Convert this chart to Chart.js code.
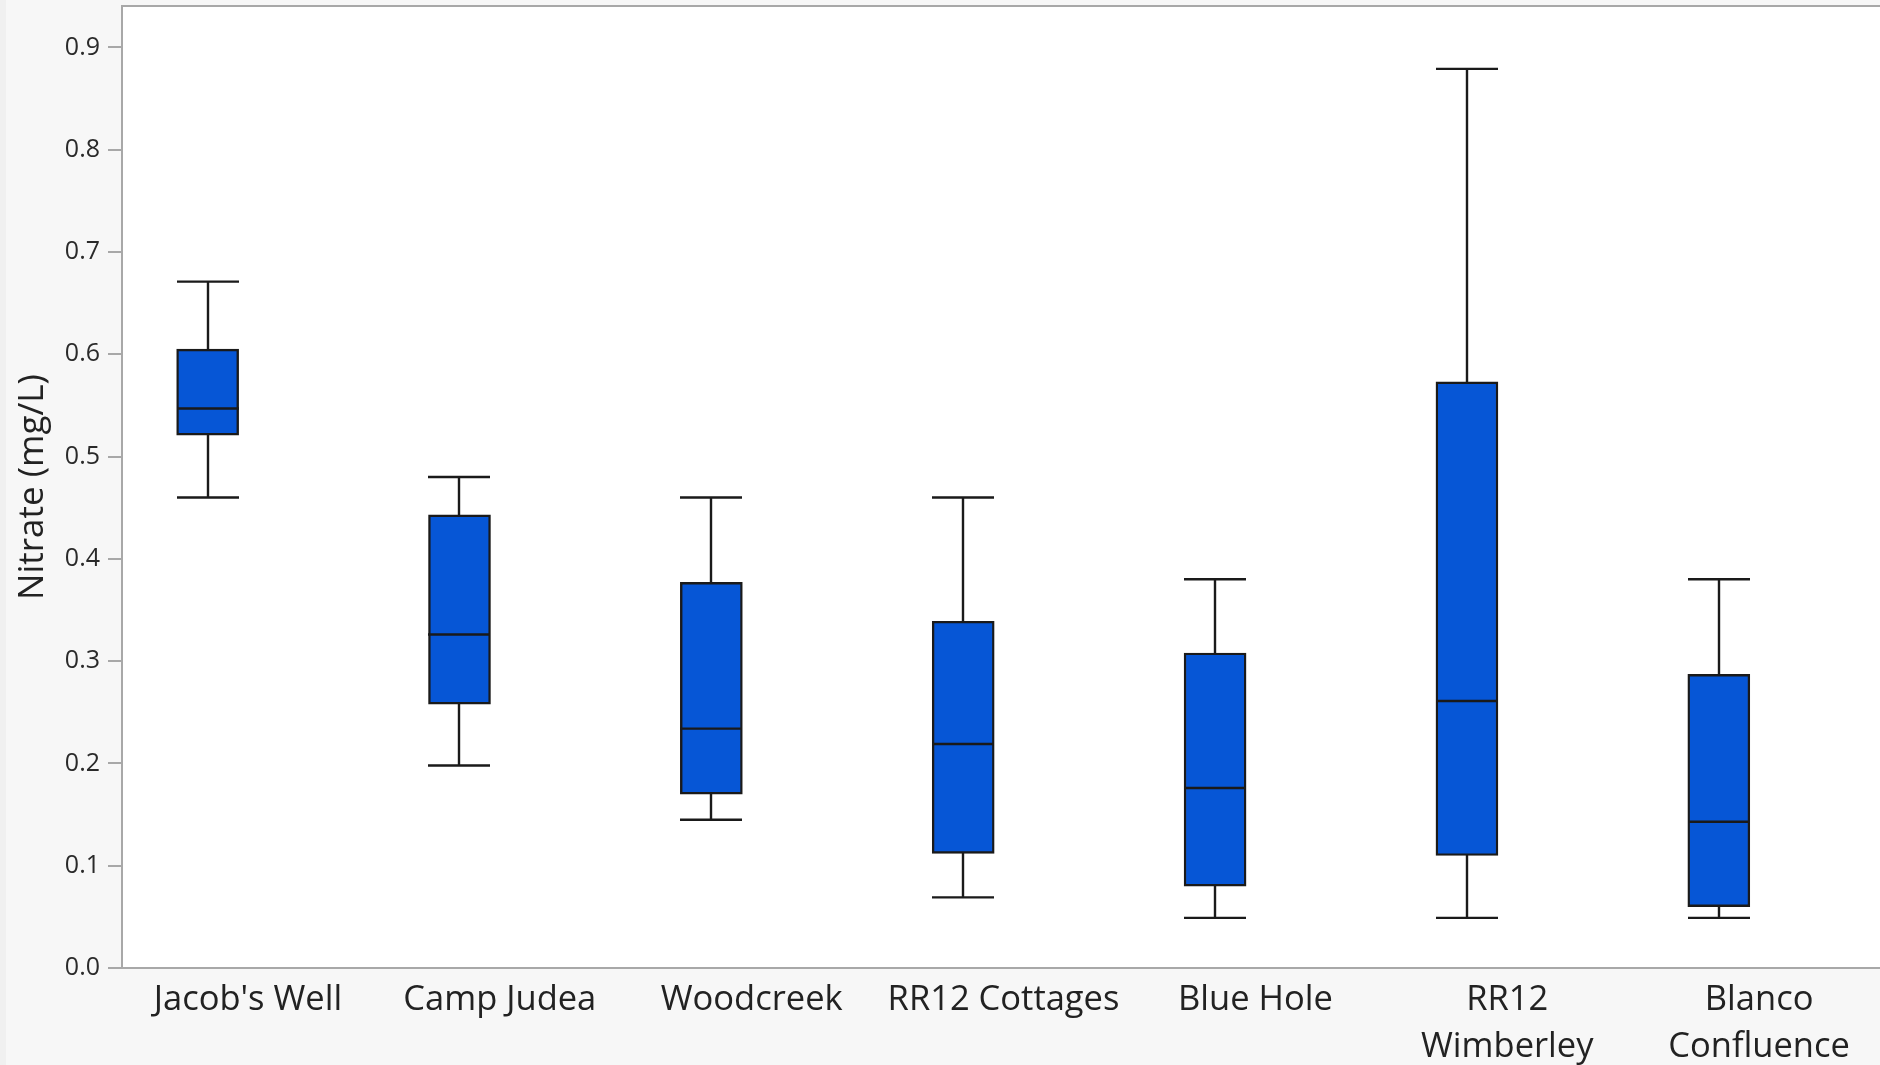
<!DOCTYPE html>
<html lang="en">
<head>
  <meta charset="UTF-8" />
  <title>Nitrate by site</title>
  <script src="https://cdn.jsdelivr.net/npm/chart.js"></script>
  <style>
    body {
      margin: 0;
      background: #f7f7f7;
    }
    .wrap {
      width: 1880px;
      height: 1065px;
    }
  </style>
</head>
<body>
  <div class="wrap">
    <canvas id="boxChart"></canvas>
  </div>

  <script>
    // values (mg/L)
    const sites = ["Jacob's Well", "Camp Judea", "Woodcreek", "RR12 Cottages", "Blue Hole", ["RR12", "Wimberley"], ["Blanco", "Confluence"]];
    const whiskerLow  = [0.460, 0.198, 0.145, 0.069, 0.049, 0.049, 0.049];
    const q1          = [0.521, 0.258, 0.170, 0.112, 0.080, 0.110, 0.060];
    const median      = [0.547, 0.326, 0.234, 0.219, 0.176, 0.261, 0.143];
    const q3          = [0.605, 0.443, 0.377, 0.339, 0.308, 0.573, 0.287];
    const whiskerHigh = [0.671, 0.480, 0.460, 0.460, 0.380, 0.879, 0.380];
    const yTicks = [0, 0.1, 0.2, 0.3, 0.4, 0.5, 0.6, 0.7, 0.8, 0.9];

    const boxShift = -0.16;   // JMP draws the boxes left of the label centre
    const boxWidth = 62;
    const lineW = 2.4;
    const fontFam = "'Open Sans', 'Noto Sans', sans-serif";

    // background, white plot area and the top frame line
    const frame = {
      id: 'frame',
      beforeDraw(chart) {
        const { ctx, chartArea: a, width, height } = chart;
        ctx.save();
        ctx.fillStyle = '#f0f0f0';
        ctx.fillRect(0, 0, width, height);
        ctx.fillStyle = '#f7f7f7';
        ctx.fillRect(6, 0, width - 6, height);
        ctx.fillStyle = '#ffffff';
        ctx.fillRect(a.left, a.top, a.right - a.left, a.bottom - a.top);
        ctx.strokeStyle = '#a8a8a8';
        ctx.lineWidth = 2;
        ctx.beginPath();
        ctx.moveTo(a.left, a.top);
        ctx.lineTo(width, a.top);
        ctx.stroke();
        ctx.restore();
      }
    };

    // whiskers behind the boxes, medians on top
    const whiskers = {
      id: 'whiskers',
      beforeDatasetsDraw(chart) {
        const { ctx, scales: { x, y } } = chart;
        ctx.save();
        ctx.strokeStyle = '#1a1a1a';
        ctx.lineWidth = lineW;
        sites.forEach((s, i) => {
          const px = Math.round(x.getPixelForValue(i + boxShift));
          const lo = y.getPixelForValue(whiskerLow[i]);
          const hi = y.getPixelForValue(whiskerHigh[i]);
          ctx.beginPath();
          ctx.moveTo(px, lo);
          ctx.lineTo(px, hi);
          ctx.moveTo(px - boxWidth / 2, lo);
          ctx.lineTo(px + boxWidth / 2, lo);
          ctx.moveTo(px - boxWidth / 2, hi);
          ctx.lineTo(px + boxWidth / 2, hi);
          ctx.stroke();
        });
        ctx.restore();
      },
      afterDatasetsDraw(chart) {
        const { ctx, scales: { x, y } } = chart;
        ctx.save();
        ctx.strokeStyle = '#1a1a1a';
        ctx.lineWidth = lineW;
        sites.forEach((s, i) => {
          const px = Math.round(x.getPixelForValue(i + boxShift));
          const m = y.getPixelForValue(median[i]);
          ctx.beginPath();
          ctx.moveTo(px - boxWidth / 2, m);
          ctx.lineTo(px + boxWidth / 2, m);
          ctx.stroke();
        });
        ctx.restore();
      }
    };

    const chart = new Chart(document.getElementById('boxChart'), {
      type: 'bar',
      data: {
        datasets: [{
          label: 'Nitrate',
          data: sites.map((s, i) => ({ x: i + boxShift, y: [q1[i], q3[i]] })),
          backgroundColor: '#0656d6',
          borderColor: '#1a1a1a',
          borderWidth: lineW,
          borderSkipped: false,
          barThickness: boxWidth
        }]
      },
      options: {
        responsive: true,
        maintainAspectRatio: false,
        animation: false,
        layout: { padding: { top: 6, left: 0, right: 0, bottom: 0 } },
        plugins: {
          legend: { display: false },
          tooltip: { enabled: false }
        },
        scales: {
          x: {
            type: 'linear',
            offset: false,
            min: -0.5,
            max: 6.48,
            afterBuildTicks: (scale) => { scale.ticks = sites.map((s, i) => ({ value: i })); },
            afterFit: (scale) => {
              scale.height = 97;
              scale.paddingLeft = 0;
              scale.paddingRight = 0;
            },
            grid: { display: false, offset: false },
            border: { display: true, color: '#a8a8a8', width: 2 },
            ticks: {
              autoSkip: false,
              maxRotation: 0,
              padding: 0,
              color: '#222',
              font: { family: fontFam, size: 34.5, lineHeight: 1.38 },
              callback: (v) => sites[Math.round(v)]
            }
          },
          y: {
            min: 0,
            max: 0.9405,
            afterBuildTicks: (scale) => { scale.ticks = yTicks.map(v => ({ value: v })); },
            afterFit: (scale) => {
              scale.width = 122;
              scale.paddingTop = 0;
              scale.paddingBottom = 0;
            },
            grid: { drawOnChartArea: false, drawTicks: true, tickLength: 14, color: '#a8a8a8', lineWidth: 2 },
            border: { display: true, color: '#a8a8a8', width: 2 },
            ticks: {
              padding: 8,
              color: '#2a2a2a',
              font: { family: fontFam, size: 25 },
              callback: (v) => v.toFixed(1)
            },
            title: {
              display: true,
              text: 'Nitrate (mg/L)',
              color: '#222',
              padding: { top: 12, bottom: 0 },
              font: { family: fontFam, size: 35 }
            }
          }
        }
      },
      plugins: [frame, whiskers]
    });
  </script>
</body>
</html>
